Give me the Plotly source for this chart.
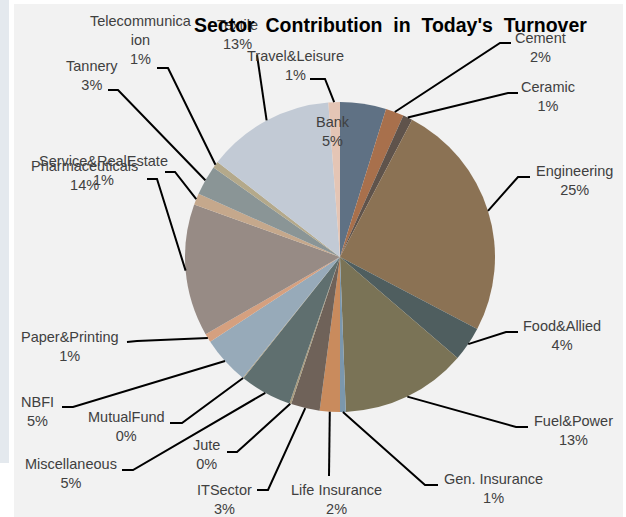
import math
import plotly.graph_objects as go

# ---- data ----
sectors = ["Bank", "Cement", "Ceramic", "Engineering", "Food&Allied", "Fuel&Power",
           "Gen. Insurance", "Life Insurance", "ITSector", "Jute", "Miscellaneous",
           "MutualFund", "NBFI", "Paper&Printing", "Pharmaceuticals",
           "Service&RealEstate", "Tannery", "Telecommunication", "Textile",
           "Travel&Leisure"]
turnover_share = [4.8, 1.9, 1.0, 25.0, 3.6, 13.1, 0.6, 2.1, 3.0, 0.2, 5.4, 0.1, 5.0,
                  0.9, 13.8, 1.2, 3.1, 0.7, 13.3, 1.2]
slice_colors = ["#5f7184", "#a8704c", "#5f534b", "#8b7254", "#4f5e5f", "#7a7356",
                "#7b97ad", "#c98b5d", "#6f6259", "#a89b7e", "#5f6f6f", "#a99c7e",
                "#97aab9", "#d5a07f", "#978b85", "#c5a88c", "#8a9596", "#b4a98b",
                "#c2cad5", "#e4c5b5"]

# ---- layout helpers (pixel positions of labels / leader-line elbows) ----
W, H = 626, 517
CX, CY, R = 340, 257, 155

label_pos = {
    "Bank": (333, 132), "Cement": (540, 48), "Ceramic": (548, 96),
    "Engineering": (574, 180), "Food&Allied": (562, 335), "Fuel&Power": (573, 430),
    "Gen. Insurance": (493, 488), "Life Insurance": (336, 499), "ITSector": (224, 499),
    "Jute": (206, 454), "Miscellaneous": (71, 473), "MutualFund": (126, 426),
    "NBFI": (37, 411), "Paper&Printing": (70, 346), "Pharmaceuticals": (84, 175),
    "Service&RealEstate": (103, 170), "Tannery": (92, 76),
    "Telecommunication": (141, 40), "Textile": (237, 35), "Travel&Leisure": (295, 65),
}
leader = {
    "Cement": [(511, 43), (500, 43)], "Ceramic": [(518, 93), (508, 93)],
    "Engineering": [(530, 177), (518, 177)], "Food&Allied": [(518, 332), (506, 332)],
    "Fuel&Power": [(528, 427), (516, 427)], "Gen. Insurance": [(438, 485), (425, 485)],
    "Life Insurance": [(329, 476)], "ITSector": [(257, 490), (268, 490)],
    "Jute": [(227, 452), (237, 452)], "Miscellaneous": [(122, 470), (133, 470)],
    "MutualFund": [(170, 423), (182, 423)], "NBFI": [(62, 407), (73, 407)],
    "Paper&Printing": [(127, 342), (137, 341)], "Pharmaceuticals": [(147, 179), (157, 179)],
    "Service&RealEstate": [(165, 172), (175, 172)], "Tannery": [(108, 90), (118, 90)],
    "Telecommunication": [(157, 68), (168, 68)], "Textile": [(257, 55)],
    "Travel&Leisure": [(310, 79), (325, 79)],
}


def px(x):
    return x / W


def py(y):
    return 1 - y / H


fig = go.Figure()
fig.add_trace(go.Pie(
    labels=sectors, values=turnover_share, sort=False, direction="clockwise",
    rotation=0, textinfo="none", hoverinfo="label+percent",
    marker=dict(colors=slice_colors, line=dict(width=0)),
    domain=dict(x=[px(CX - R), px(CX + R)], y=[py(CY + R), py(CY - R)]),
    showlegend=False,
))

shapes = [
    dict(type="rect", xref="paper", yref="paper", x0=0, x1=px(9), y0=py(463), y1=1,
         fillcolor="#e4e9ee", line=dict(width=0), layer="below"),
    dict(type="rect", xref="paper", yref="paper", x0=px(14), x1=px(623), y0=0, y1=py(4),
         fillcolor="#f2f2f2", line=dict(width=0), layer="below"),
]
annotations = []
total = sum(turnover_share)
cum = 0.0
for name, v in zip(sectors, turnover_share):
    mid = (cum + v / 2) / total * 2 * math.pi
    cum += v
    ex, ey = CX + R * math.sin(mid), CY - R * math.cos(mid)
    pct = round(v / total * 100)
    disp = "Telecommunica<br>ion" if name == "Telecommunication" else name
    lx, ly = label_pos[name]
    annotations.append(dict(
        x=px(lx), y=py(ly), xref="paper", yref="paper", showarrow=False,
        text=f"{disp}<br>{pct}%", xanchor="center", yanchor="middle",
        font=dict(family="Liberation Sans, Arial", size=14.5, color="#404040"),
    ))
    if name in leader:
        pts = leader[name] + [(ex, ey)]
        path = "M " + " L ".join(f"{px(a)},{py(b)}" for a, b in pts)
        shapes.append(dict(type="path", xref="paper", yref="paper", path=path,
                           line=dict(color="#000000", width=2)))

annotations.append(dict(
    x=px(390), y=py(25), xref="paper", yref="paper", showarrow=False,
    text="Sector  Contribution  in  Today's  Turnover", xanchor="center", yanchor="middle",
    font=dict(family="Liberation Sans, Arial", size=19.5, color="#000000", weight="bold"),
))

fig.update_layout(
    width=W, height=H, margin=dict(l=0, r=0, t=0, b=0),
    paper_bgcolor="#ffffff", plot_bgcolor="#ffffff",
    shapes=shapes, annotations=annotations,
)
fig.write_html("out.html", config={"displayModeBar": False},
               post_script="document.body.style.margin='0px';")
